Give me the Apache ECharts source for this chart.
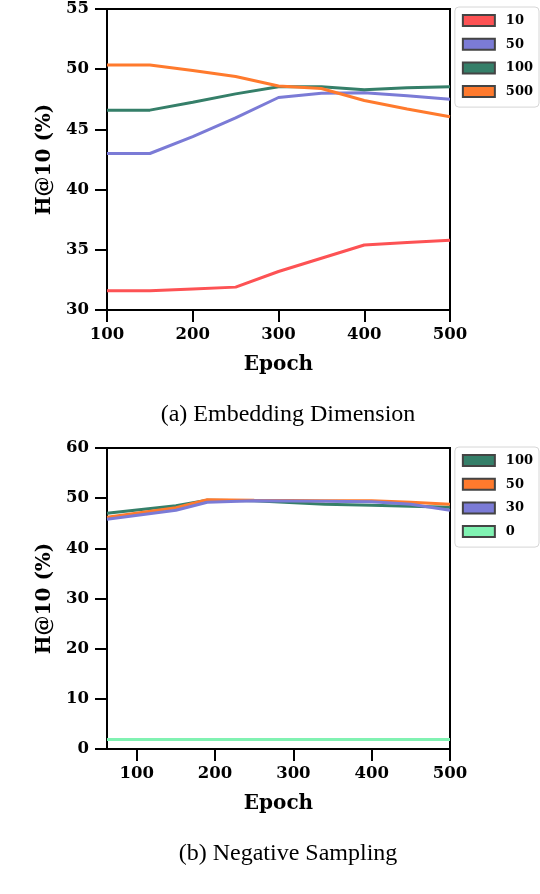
<!DOCTYPE html>
<html>
<head>
<meta charset="utf-8">
<script src="https://cdn.jsdelivr.net/npm/echarts@6/dist/echarts.min.js"></script>
<style>
  html, body { margin: 0; padding: 0; background: #fff; }
  #main { width: 540px; height: 894px; }
</style>
</head>
<body>
<div id="main"></div>
<script>
    // (a) Embedding Dimension
    var dimEpochs = [100, 150, 200, 250, 300, 350, 400, 450, 500];
    var dim10  = [31.6, 31.6, 31.75, 31.9, 33.2, 34.3, 35.4, 35.6, 35.8];
    var dim50  = [43.0, 43.0, 44.4, 45.95, 47.65, 48.0, 48.05, 47.8, 47.5];
    var dim100 = [46.6, 46.6, 47.25, 47.95, 48.55, 48.55, 48.3, 48.45, 48.55];
    var dim500 = [50.35, 50.35, 49.9, 49.4, 48.6, 48.4, 47.4, 46.7, 46.05];

    // (b) Negative Sampling
    var negEpochs = [62, 150, 190, 250, 340, 400, 450, 500];
    var neg100 = [47.0, 48.5, 49.6, 49.5, 48.8, 48.6, 48.4, 48.2];
    var neg50  = [46.2, 48.1, 49.7, 49.6, 49.5, 49.5, 49.2, 48.8];
    var neg30  = [45.8, 47.6, 49.2, 49.5, 49.4, 49.3, 48.8, 47.6];
    var neg0   = [1.9, 1.9, 1.9, 1.9, 1.9, 1.9, 1.9, 1.9];

    var xTicks = [100, 200, 300, 400, 500];

    var RED = '#fd5254', BLUE = '#7b7bd6', GREEN = '#357f69', ORANGE = '#ff7a2d', MINT = '#80f2b2';
    var SERIF = 'DejaVu Serif';

    function pairs(xs, ys) {
        return xs.map(function (x, i) { return [x, ys[i]]; });
    }
    function line(name, xi, color, xs, ys) {
        return {
            name: name, type: 'line',
            xAxisIndex: xi, yAxisIndex: xi,
            data: pairs(xs, ys),
            symbol: 'none', smooth: false,
            itemStyle: { color: color, borderColor: '#444', borderWidth: 1.5 },
            lineStyle: { color: color, width: 3 },
            z: 3
        };
    }
    var axisCommon = {
        type: 'value',
        axisLine: { show: true, onZero: false, lineStyle: { color: '#000', width: 2 } },
        axisTick: { show: true, inside: false, length: 12, lineStyle: { color: '#000', width: 2 } },
        splitLine: { show: false },
        axisLabel: { color: '#000', fontFamily: SERIF, fontWeight: 'bold', fontSize: 16.5 },
        nameTextStyle: { color: '#000', fontFamily: SERIF, fontWeight: 'bold', fontSize: 20 },
        nameLocation: 'middle'
    };
    function ax(extra) {
        var o = JSON.parse(JSON.stringify(axisCommon));
        for (var k in extra) {
            if (typeof extra[k] === 'object' && o[k] && !Array.isArray(extra[k])) {
                for (var j in extra[k]) o[k][j] = extra[k][j];
            } else {
                o[k] = extra[k];
            }
        }
        return o;
    }
    var legendCommon = {
        orient: 'vertical', right: 1,
        itemWidth: 32, itemHeight: 11, itemGap: 10.7,
        padding: [7, 6, 9, 7],
        borderColor: '#d6d6d6', borderWidth: 1, borderRadius: 4,
        backgroundColor: '#fff',
        icon: 'rect',
        textStyle: { color: '#000', fontFamily: SERIF, fontWeight: 'bold', fontSize: 13, padding: [0, 0, 0, 6] }
    };

    var chart = echarts.init(document.getElementById('main'));
    chart.setOption({
        animation: false,
        grid: [
            { left: 107, width: 343, top: 9, height: 301, show: true, borderColor: '#000', borderWidth: 2, backgroundColor: 'transparent' },
            { left: 107, width: 343, top: 448, height: 301, show: true, borderColor: '#000', borderWidth: 2, backgroundColor: 'transparent' }
        ],
        xAxis: [
            ax({ gridIndex: 0, min: 100, max: 500, interval: 100, name: 'Epoch', nameGap: 45,
                 axisLabel: { margin: 16 } }),
            ax({ gridIndex: 1, min: 62, max: 500, name: 'Epoch', nameGap: 45,
                 axisLabel: { margin: 16, customValues: xTicks },
                 axisTick: { customValues: xTicks } })
        ],
        yAxis: [
            ax({ gridIndex: 0, min: 30, max: 55, interval: 5, name: 'H@10 (%)', nameGap: 43,
                 axisLabel: { margin: 18 } }),
            ax({ gridIndex: 1, min: 0, max: 60, interval: 10, name: 'H@10 (%)', nameGap: 43,
                 axisLabel: { margin: 18 } })
        ],
        legend: [
            Object.assign({}, legendCommon, { top: 7, data: ['10', '50', '100', '500'] }),
            Object.assign({}, legendCommon, { top: 447, data: ['100 ', '50 ', '30', '0'],
                formatter: function (n) { return n.trim(); } })
        ],
        graphic: [
            { type: 'text', x: 288, y: 415,
              style: { text: '(a) Embedding Dimension', font: '24px "Liberation Serif"', fill: '#000',
                       align: 'center', verticalAlign: 'middle' } },
            { type: 'text', x: 288, y: 854,
              style: { text: '(b) Negative Sampling', font: '24px "Liberation Serif"', fill: '#000',
                       align: 'center', verticalAlign: 'middle' } }
        ],
        series: [
            line('10', 0, RED, dimEpochs, dim10),
            line('50', 0, BLUE, dimEpochs, dim50),
            line('100', 0, GREEN, dimEpochs, dim100),
            line('500', 0, ORANGE, dimEpochs, dim500),
            line('0', 1, MINT, negEpochs, neg0),
            line('100 ', 1, GREEN, negEpochs, neg100),
            line('50 ', 1, ORANGE, negEpochs, neg50),
            line('30', 1, BLUE, negEpochs, neg30)
        ]
    });
</script>
</body>
</html>
